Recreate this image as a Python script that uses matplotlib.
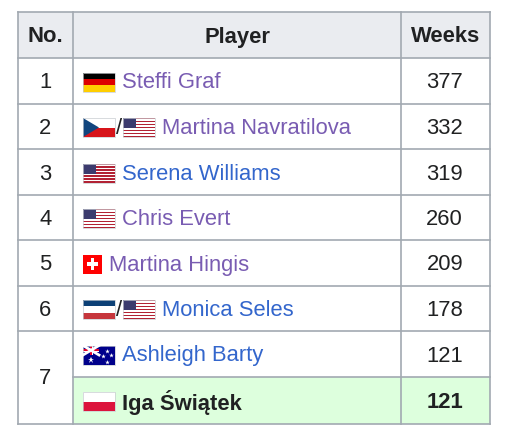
import matplotlib.pyplot as plt
from matplotlib.patches import Rectangle, Polygon

ranks = ["1", "2", "3", "4", "5", "6", "7", ""]
players = ["Steffi Graf", "Martina Navratilova", "Serena Williams", "Chris Evert",
           "Martina Hingis", "Monica Seles", "Ashleigh Barty", "Iga Świątek"]
weeks = [377, 332, 319, 260, 209, 178, 121, 121]
flags = [["GER"], ["CZE", "USA"], ["USA"], ["USA"], ["SUI"], ["YUG", "USA"], ["AUS"], ["POL"]]
link_colors = ["#795cb2", "#795cb2", "#3366cc", "#795cb2", "#795cb2", "#3366cc", "#3366cc", "#202122"]

plt.rcParams['font.family'] = ['Liberation Sans', 'DejaVu Sans']
fig = plt.figure(figsize=(5.08, 4.34), dpi=100)
ax = fig.add_axes([0, 0, 1, 1])
ax.set_xlim(0, 508)
ax.set_ylim(434, 0)
ax.axis('off')

border = "#a2a9b1"
x0, x1, x2, x3 = 18, 73, 401, 490
row_tops = [12, 58, 104, 149, 195, 240, 286, 331, 377, 424]
fs = 15.8
dy = 2  # text baseline nudge


def flag(code, x, y, w=32, h=19):
    def r(xx, yy, ww, hh, c):
        ax.add_patch(Rectangle((xx, yy), ww, hh, color=c, lw=0))
    if code == "GER":
        for i, c in enumerate(["#000000", "#dd0000", "#ffce00"]):
            r(x, y + i * h / 3, w, h / 3, c)
    elif code == "USA":
        for i in range(13):
            r(x, y + i * h / 13, w, h / 13, "#b22234" if i % 2 == 0 else "white")
        r(x, y, w * 0.4, h * 7 / 13, "#3c3b6e")
    elif code == "CZE":
        r(x, y, w, h / 2, "white")
        r(x, y + h / 2, w, h / 2, "#d7141a")
        ax.add_patch(Polygon([(x, y), (x + w / 2, y + h / 2), (x, y + h)], color="#11457e", lw=0))
    elif code == "SUI":
        r(x, y, h, h, "#ff0000")
        r(x + h * 0.2, y + h * 0.4, h * 0.6, h * 0.2, "white")
        r(x + h * 0.4, y + h * 0.2, h * 0.2, h * 0.6, "white")
        return h
    elif code == "YUG":
        for i, c in enumerate(["#0c4076", "white", "#c6363c"]):
            r(x, y + i * h / 3, w, h / 3, c)
    elif code == "AUS":
        r(x, y, w, h, "#00008b")
        ax.plot([x, x + w / 2], [y, y + h / 2], color="white", lw=2)
        ax.plot([x, x + w / 2], [y + h / 2, y], color="white", lw=2)
        r(x, y + h / 4 - 1.5, w / 2, 3, "white")
        r(x + w / 4 - 1.5, y, 3, h / 2, "white")
        r(x, y + h / 4 - 0.8, w / 2, 1.6, "#e4002b")
        r(x + w / 4 - 0.8, y, 1.6, h / 2, "#e4002b")
        for sx, sy in [(0.25, 0.78), (0.75, 0.3), (0.62, 0.55), (0.88, 0.5), (0.75, 0.85)]:
            ax.plot(x + sx * w, y + sy * h, marker='*', color='white', ms=3.5 if sx != 0.25 else 5, mew=0)
    elif code == "POL":
        r(x, y, w, h / 2, "white")
        r(x, y + h / 2, w, h / 2, "#dc143c")
    ax.add_patch(Rectangle((x, y), w, h, fill=False, ec="#c8ccd1", lw=0.5))
    return w


# header
ax.add_patch(Rectangle((x0, row_tops[0]), x3 - x0, row_tops[1] - row_tops[0], color="#eaecf0", lw=0))
# highlighted row
ax.add_patch(Rectangle((x1, row_tops[8]), x3 - x1, row_tops[9] - row_tops[8], color="#ddffdd", lw=0))

hy = (row_tops[0] + row_tops[1]) / 2 + dy
for txt, cx in [("No.", (x0 + x1) / 2), ("Player", (x1 + x2) / 2), ("Weeks", (x2 + x3) / 2)]:
    ax.text(cx, hy, txt, ha='center', va='center', fontsize=fs, fontweight='bold', color="#202122")

for i in range(8):
    top, bot = row_tops[i + 1], row_tops[i + 2]
    cy = (top + bot) / 2
    bold = 'bold' if i == 7 else 'normal'
    if i < 6:
        ax.text((x0 + x1) / 2, cy + dy, ranks[i], ha='center', va='center', fontsize=fs, color="#202122")
    elif i == 6:
        ax.text((x0 + x1) / 2, bot + dy, ranks[i], ha='center', va='center', fontsize=fs, color="#202122")
    fx = 83
    for j, code in enumerate(flags[i]):
        if j > 0:
            ax.text(fx + 1, cy + dy, "/", ha='left', va='center', fontsize=fs, color="#202122")
            fx += 8
        fx += flag(code, fx, cy - 8.5)
    ax.text(fx + 7, cy + dy, players[i], ha='left', va='center', fontsize=fs, color=link_colors[i], fontweight=bold)
    ax.text(x3 - 27, cy + dy, str(weeks[i]), ha='right', va='center', fontsize=fs, color="#202122", fontweight=bold)

# grid lines
lw = 1.2
for k, y in enumerate(row_tops):
    if k == 8:
        ax.plot([x1, x3], [y, y], color=border, lw=lw)
    else:
        ax.plot([x0, x3], [y, y], color=border, lw=lw)
for x in [x0, x1, x2, x3]:
    ax.plot([x, x], [row_tops[0], row_tops[-1]], color=border, lw=lw)

fig.savefig("out.png", dpi=100)
